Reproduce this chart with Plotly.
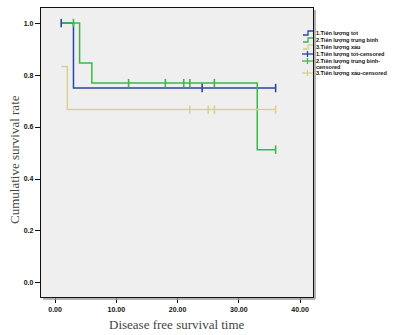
import plotly.graph_objects as go

# ---- data ----
blue_t = [1, 3, 36]
blue_s = [1.0, 0.75, 0.75]
blue_ct = [1, 24, 36]
blue_cs = [1.0, 0.75, 0.75]

green_t = [1, 4, 6, 33, 36]
green_s = [1.0, 0.846, 0.769, 0.513, 0.513]
green_ct = [3, 12, 18, 21, 22, 26, 36]
green_cs = [1.0, 0.769, 0.769, 0.769, 0.769, 0.769, 0.513]

yel_t = [1, 2, 36]
yel_s = [0.833, 0.667, 0.667]
yel_ct = [22, 25, 26, 36]
yel_cs = [0.667, 0.667, 0.667, 0.667]

legend_labels = ["1.Tiên lượng tốt", "2.Tiên lượng trung bình", "3.Tiên lượng xấu",
                 "1.Tiên lượng tốt-censored", "2.Tiên lượng trung bình-<br>censored",
                 "3.Tiên lượng xấu-censored"]
x_ticks = [0, 10, 20, 30, 40]
y_ticks = [0.0, 0.2, 0.4, 0.6, 0.8, 1.0]
x_title = "Disease free survival time"
y_title = "Cumulative survival rate"

BLUE = "#2b469e"
GREEN = "#3cb84a"
YEL = "#d9d193"
colors = [BLUE, GREEN, YEL]

W, H = 399, 335
L, R, T, B = 41, 313, 8, 297

fig = go.Figure()
for t, s, c in [(blue_t, blue_s, BLUE), (green_t, green_s, GREEN), (yel_t, yel_s, YEL)]:
    fig.add_trace(go.Scatter(x=t, y=s, mode="lines", line=dict(color=c, width=1.5, shape="hv"),
                             showlegend=False, hoverinfo="skip"))
for t, s, c in [(blue_ct, blue_cs, BLUE), (green_ct, green_cs, GREEN), (yel_ct, yel_cs, YEL)]:
    fig.add_trace(go.Scatter(x=t, y=s, mode="markers",
                             marker=dict(symbol="line-ns-open", size=6, color=c,
                                         line=dict(color=c, width=1.6)),
                             showlegend=False, hoverinfo="skip"))

def px2paper(px, py):
    return (px - L) / (R - L), (B - py) / (B - T)

shapes = []
annotations = []
# frame shadow
x0, y0 = px2paper(L + 2, B + 2)
x1, y1 = px2paper(R + 2, T + 2)
shapes.append(dict(type="line", xref="paper", yref="paper", x0=1.0 + 2 / (R - L), x1=1.0 + 2 / (R - L),
                   y0=y0, y1=y1, line=dict(color="#9a9a9a", width=1.5)))
shapes.append(dict(type="line", xref="paper", yref="paper", x0=x0, x1=x1,
                   y0=-2 / (B - T), y1=-2 / (B - T), line=dict(color="#9a9a9a", width=1.5)))

# custom legend
rows = [33, 40, 47, 54, 61, 73]
lfont = dict(family="Arial, Liberation Sans", size=5.5, color="#111", weight="bold")
for i, (lab, py) in enumerate(zip(legend_labels, rows)):
    c = colors[i % 3]
    if i < 3:
        ax0, ay0 = px2paper(303, py + 2)
        ax1, ay1 = px2paper(308, py - 2)
        ax2, ay2 = px2paper(313, py - 2)
        path = f"M {ax0} {ay0} L {ax1} {ay0} L {ax1} {ay1} L {ax2} {ay2}"
        shapes.append(dict(type="path", xref="paper", yref="paper", path=path,
                           line=dict(color=c, width=1.3)))
    else:
        ax0, ay = px2paper(302, py)
        ax1, _ = px2paper(313, py)
        xm, ya = px2paper(307.5, py - 3)
        _, yb = px2paper(307.5, py + 3)
        shapes.append(dict(type="line", xref="paper", yref="paper", x0=ax0, x1=ax1, y0=ay, y1=ay,
                           line=dict(color=c, width=1.3)))
        shapes.append(dict(type="line", xref="paper", yref="paper", x0=xm, x1=xm, y0=ya, y1=yb,
                           line=dict(color=c, width=1.3)))
    parts = lab.split("<br>")
    for j, part in enumerate(parts):
        tx, ty = px2paper(315, py + j * 5.5)
        annotations.append(dict(xref="paper", yref="paper", x=tx, y=ty, text=part, showarrow=False,
                                xanchor="left", yanchor="middle", align="left", borderpad=0,
                                font=lfont))

tfont = dict(family="Liberation Serif, Times New Roman", size=13, color="#444")
tx, ty = px2paper(177, 324)
annotations.append(dict(xref="paper", yref="paper", x=tx, y=ty, text=x_title, showarrow=False,
                        xanchor="center", yanchor="middle", borderpad=0, font=tfont))
tx, ty = px2paper(14, 160)
annotations.append(dict(xref="paper", yref="paper", x=tx, y=ty, text=y_title, showarrow=False,
                        textangle=-90, xanchor="center", yanchor="middle", borderpad=0, font=tfont))

fig.update_layout(
    width=W, height=H,
    margin=dict(l=L, r=W - R, t=T, b=H - B),
    paper_bgcolor="white", plot_bgcolor="#efefef",
    shapes=shapes, annotations=annotations,
    xaxis=dict(range=[-2.3, 42.1], tickvals=x_ticks, ticktext=[f"{v:.2f}" for v in x_ticks],
               showgrid=False, zeroline=False, showline=True, mirror=True, linecolor="#111", linewidth=1.3,
               ticks="outside", ticklen=5, tickcolor="#111", tickwidth=1.3,
               tickfont=dict(family="Arial, Liberation Sans", size=7, color="#111", weight="bold")),
    yaxis=dict(range=[-0.054, 1.058], tickvals=y_ticks, ticktext=[f"{v:.1f}" for v in y_ticks],
               showgrid=False, zeroline=False, showline=True, mirror=True, linecolor="#111", linewidth=1.3,
               ticks="outside", ticklen=5, tickcolor="#111", tickwidth=1.3,
               tickfont=dict(family="Arial, Liberation Sans", size=7, color="#111", weight="bold")),
)
fig.write_html("out.html", config={"displayModeBar": False},
               post_script="document.body.style.margin='0';document.body.style.overflow='hidden';")
